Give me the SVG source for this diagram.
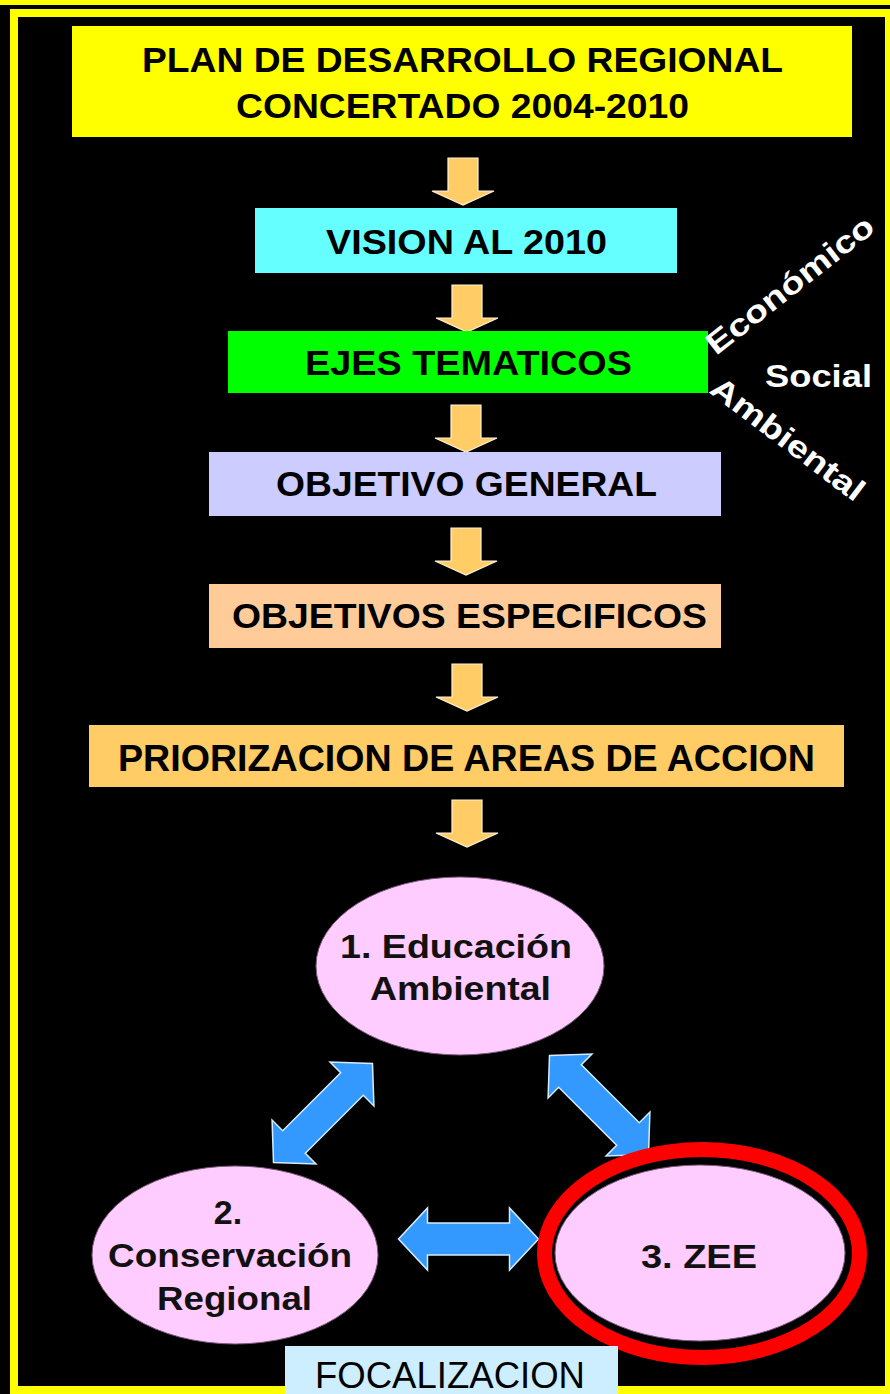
<svg xmlns="http://www.w3.org/2000/svg" width="890" height="1394" viewBox="0 0 890 1394">
<style>
.bt{font-family:"Liberation Sans",Arial,sans-serif;font-weight:bold;fill:#000;text-anchor:middle}
.et{font-family:"Liberation Sans",Arial,sans-serif;font-weight:bold;fill:#111;text-anchor:middle;font-size:34px}
.wt{font-family:"Liberation Sans",Arial,sans-serif;font-weight:bold;fill:#fff}
.ell{fill:#ffccff;stroke:#7a5a7a;stroke-width:1}
.oa{fill:#ffcc66;stroke:#fff2d9;stroke-width:1.2}
.ba{fill:#3399ff;stroke:#d6ebff;stroke-width:1.5}
</style>
<defs>
<path id="down" d="M-15,0 H15 V33 H31 L0,47 L-31,33 H-15 Z"/>
<path id="dbl" d="M-70,0 L-41,-31 V-16 H41 V-31 L70,0 L41,31 V16 H-41 V31 Z"/>
</defs>
<rect x="0" y="0" width="890" height="1394" fill="#000"/>
<rect x="0" y="0" width="890" height="5" fill="#ffff00"/>
<rect x="14" y="13" width="875" height="1377" fill="#000" stroke="#ffff00" stroke-width="8"/>

<g id="connectors">
<use href="#down" class="oa" x="463" y="158"/>
<use href="#down" class="oa" x="467" y="285"/>
<use href="#down" class="oa" x="466" y="405"/>
<use href="#down" class="oa" x="466" y="528"/>
<use href="#down" class="oa" x="467" y="664"/>
<use href="#down" class="oa" x="467" y="800"/>
<use href="#dbl" class="ba" transform="translate(323,1113) rotate(-45)"/>
<use href="#dbl" class="ba" transform="translate(599,1105) rotate(45)"/>
<use href="#dbl" class="ba" transform="translate(468.5,1239)"/>
</g>

<g id="plan">
<rect x="72" y="26" width="780" height="111" fill="#ffff00"/>
<text class="bt" x="462.5" y="72" font-size="35" textLength="641" lengthAdjust="spacingAndGlyphs">PLAN DE DESARROLLO REGIONAL</text>
<text class="bt" x="462.5" y="118" font-size="35" textLength="453" lengthAdjust="spacingAndGlyphs">CONCERTADO 2004-2010</text>
</g>

<g id="vision">
<rect x="255" y="208" width="422" height="65" fill="#66ffff"/>
<text class="bt" x="466.5" y="254" font-size="35" textLength="281" lengthAdjust="spacingAndGlyphs">VISION AL 2010</text>
</g>

<g id="ejes">
<rect x="228" y="331" width="480" height="62" fill="#00ff00"/>
<text class="bt" x="468.5" y="375" font-size="35" textLength="327" lengthAdjust="spacingAndGlyphs">EJES TEMATICOS</text>
</g>

<g id="ejes-labels">
<text class="wt" font-size="31" transform="translate(716,356) rotate(-38)" textLength="204" lengthAdjust="spacingAndGlyphs">Económico</text>
<text class="wt" font-size="32" x="765" y="387" textLength="107" lengthAdjust="spacingAndGlyphs">Social</text>
<text class="wt" font-size="31" transform="translate(708,392) rotate(37)" textLength="184" lengthAdjust="spacingAndGlyphs">Ambiental</text>
</g>

<g id="objetivo-general">
<rect x="209" y="452" width="512" height="64" fill="#ccccff"/>
<text class="bt" x="466.5" y="496" font-size="35" textLength="381" lengthAdjust="spacingAndGlyphs">OBJETIVO GENERAL</text>
</g>

<g id="objetivos-especificos">
<rect x="209" y="584" width="512" height="64" fill="#ffcc99"/>
<text class="bt" x="469.5" y="628" font-size="35" textLength="475" lengthAdjust="spacingAndGlyphs">OBJETIVOS ESPECIFICOS</text>
</g>

<g id="priorizacion">
<rect x="89" y="725" width="755" height="62" fill="#ffcc66"/>
<text class="bt" x="466.5" y="771" font-size="37" textLength="697" lengthAdjust="spacingAndGlyphs">PRIORIZACION DE AREAS DE ACCION</text>
</g>

<g id="educacion">
<ellipse class="ell" cx="460" cy="966" rx="144" ry="89"/>
<text class="et" x="456" y="958" textLength="232" lengthAdjust="spacingAndGlyphs">1. Educación</text>
<text class="et" x="460.5" y="1000" textLength="181" lengthAdjust="spacingAndGlyphs">Ambiental</text>
</g>

<g id="conservacion">
<ellipse class="ell" cx="235" cy="1255" rx="143" ry="89"/>
<text class="et" x="228" y="1224">2.</text>
<text class="et" x="230" y="1267" textLength="244" lengthAdjust="spacingAndGlyphs">Conservación</text>
<text class="et" x="234.5" y="1310" textLength="155" lengthAdjust="spacingAndGlyphs">Regional</text>
</g>

<g id="zee">
<ellipse class="ell" cx="700" cy="1253" rx="145" ry="88"/>
<ellipse cx="702" cy="1253.5" rx="157.5" ry="104" fill="none" stroke="#ff0000" stroke-width="15"/>
<text class="et" x="699" y="1268" textLength="116" lengthAdjust="spacingAndGlyphs">3. ZEE</text>
</g>

<g id="focalizacion">
<rect x="285" y="1346" width="333" height="60" fill="#cceeff"/>
<text x="450" y="1388" font-family="Liberation Sans, Arial, sans-serif" font-size="36" fill="#000" text-anchor="middle" textLength="270" lengthAdjust="spacingAndGlyphs">FOCALIZACION</text>
</g>
</svg>
